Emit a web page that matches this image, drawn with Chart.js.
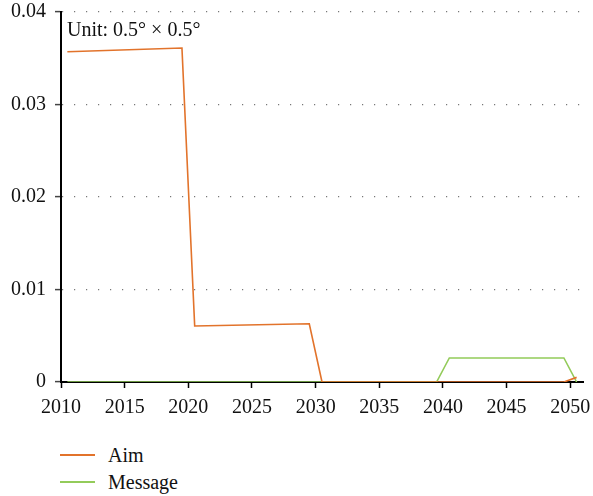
<!DOCTYPE html>
<html>
<head>
<meta charset="utf-8">
<script src="https://cdn.jsdelivr.net/npm/chart.js@4"></script>
<style>
  html, body { margin: 0; padding: 0; background: #fff; }
  #wrap { position: relative; width: 593px; height: 430px; }
  #legend { position: relative; width: 593px; height: 66px; font-family: "Liberation Serif", "DejaVu Serif", serif; font-size: 20px; color: #111; }
  .leg-item { position: absolute; left: 60px; height: 22px; display: flex; align-items: center; }
  .leg-line { width: 35px; height: 2px; margin-right: 13px; }
</style>
</head>
<body>
<div id="wrap"><canvas id="chart"></canvas></div>
<div id="legend"></div>
<script>
// values (x = year, y = value per cell)
const aimYears = [2010.5, 2019.5, 2020.5, 2029.5, 2030.5, 2049.5, 2050.5];
const aimValues = [0.0357, 0.0361, 0.00605, 0.0063, 0, 0, 0.0005];
const messageYears = [2010.5, 2039.5, 2040.5, 2049.5, 2050.5];
const messageValues = [0, 0, 0.0026, 0.0026, 0];
const xTicks = [2010, 2015, 2020, 2025, 2030, 2035, 2040, 2045, 2050];
const yTicks = [0, 0.01, 0.02, 0.03, 0.04];
const seriesNames = ['Aim', 'Message'];
const seriesColors = ['#e2732b', '#93cb5a'];
const unitLabel = 'Unit: 0.5° × 0.5°';

const font = { family: '"Liberation Serif", "DejaVu Serif", serif', size: 20 };

const toPoints = (xs, ys) => xs.map((x, i) => ({ x: x, y: ys[i] }));

// keep label overhang from pushing the plot area around
const noOverhang = (scale) => {
    scale.paddingTop = 0;
    scale.paddingBottom = 0;
    scale.paddingLeft = 0;
    scale.paddingRight = 0;
};

const unitPlugin = {
    id: 'unitLabel',
    afterDraw(chart) {
        const { ctx, chartArea } = chart;
        ctx.save();
        ctx.font = `20px ${font.family}`;
        ctx.fillStyle = '#111';
        ctx.textBaseline = 'alphabetic';
        ctx.fillText(unitLabel, chartArea.left + 6, chartArea.top + 24);
        ctx.restore();
    }
};

const chart = new Chart(document.getElementById('chart'), {
    type: 'line',
    data: {
        datasets: [
            { label: seriesNames[0], data: toPoints(aimYears, aimValues), borderColor: seriesColors[0] },
            { label: seriesNames[1], data: toPoints(messageYears, messageValues), borderColor: seriesColors[1] }
        ]
    },
    options: {
        responsive: true,
        maintainAspectRatio: false,
        animation: false,
        layout: { padding: { top: 12, right: 10, left: 0, bottom: 0 } },
        elements: {
            line: { borderWidth: 1.6, tension: 0, fill: false },
            point: { radius: 0 }
        },
        plugins: {
            legend: { display: false },
            tooltip: { enabled: false }
        },
        scales: {
            x: {
                type: 'linear',
                min: 2010,
                max: 2051,
                afterBuildTicks: (scale) => { scale.ticks = xTicks.map(v => ({ value: v })); },
                afterFit: (scale) => { scale.height = 48; noOverhang(scale); },
                ticks: { font: font, color: '#111', padding: 8, maxRotation: 0, callback: v => String(v) },
                grid: { drawOnChartArea: false, drawTicks: true, tickLength: 6, tickColor: '#000', tickWidth: 1.5 },
                border: { color: '#000', width: 2 }
            },
            y: {
                min: 0,
                max: 0.04,
                afterBuildTicks: (scale) => { scale.ticks = yTicks.map(v => ({ value: v })); },
                afterFit: (scale) => { scale.width = 61; noOverhang(scale); },
                ticks: { font: font, color: '#111', padding: 9, callback: v => v === 0 ? '0' : v.toFixed(2) },
                grid: { color: '#777', lineWidth: 1.2, drawTicks: true, tickLength: 6, tickColor: '#444', tickWidth: 1.5 },
                border: { color: '#000', width: 2, dash: [1.2, 10.8] }
            }
        }
    },
    plugins: [unitPlugin]
});

// legend below the chart, one entry per line
document.getElementById('legend').innerHTML = chart.data.datasets.map((ds, i) => `
    <div class="leg-item" style="top:${14 + i * 27}px">
        <span class="leg-line" style="background:${ds.borderColor}"></span>
        <span>${ds.label}</span>
    </div>
`).join('');
</script>
</body>
</html>
